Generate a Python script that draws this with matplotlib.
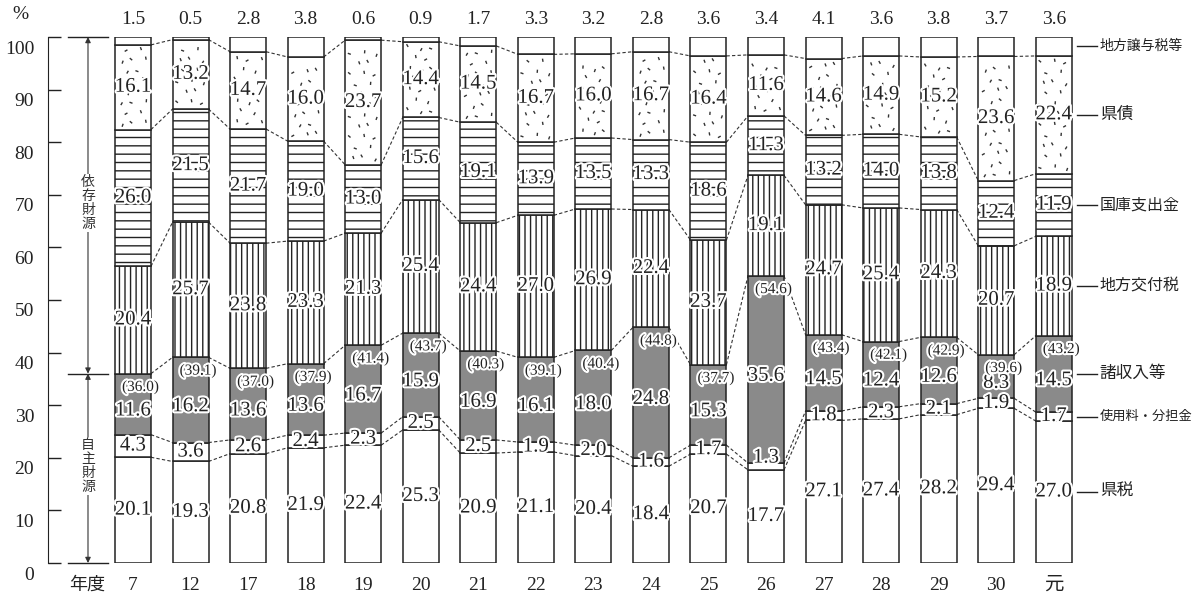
import matplotlib
matplotlib.use("Agg")
import matplotlib.pyplot as plt
import matplotlib.patheffects as pe
import matplotlib.transforms as mtransforms
from matplotlib.collections import LineCollection
import numpy as np

plt.rcParams['font.family'] = ['Liberation Serif', 'Noto Sans CJK JP']
plt.rcParams['hatch.linewidth'] = 1.0

years = ['7', '12', '17', '18', '19', '20', '21', '22', '23', '24', '25', '26',
         '27', '28', '29', '30', '元']

# 歳入構成比 (%)
kenzei = [20.1, 19.3, 20.8, 21.9, 22.4, 25.3, 20.9, 21.1, 20.4, 18.4, 20.7, 17.7,
          27.1, 27.4, 28.2, 29.4, 27.0]
shiyoryo = [4.3, 3.6, 2.6, 2.4, 2.3, 2.5, 2.5, 1.9, 2.0, 1.6, 1.7, 1.3,
            1.8, 2.3, 2.1, 1.9, 1.7]
shoshunyu = [11.6, 16.2, 13.6, 13.6, 16.7, 15.9, 16.9, 16.1, 18.0, 24.8, 15.3, 35.6,
             14.5, 12.4, 12.6, 8.3, 14.5]
jishu_total = [36.0, 39.1, 37.0, 37.9, 41.4, 43.7, 40.3, 39.1, 40.4, 44.8, 37.7, 54.6,
               43.4, 42.1, 42.9, 39.6, 43.2]
kofuzei = [20.4, 25.7, 23.8, 23.3, 21.3, 25.4, 24.4, 27.0, 26.9, 22.4, 23.7, 19.1,
           24.7, 25.4, 24.3, 20.7, 18.9]
kokko = [26.0, 21.5, 21.7, 19.0, 13.0, 15.6, 19.1, 13.9, 13.5, 13.3, 18.6, 11.3,
         13.2, 14.0, 13.8, 12.4, 11.9]
kensai = [16.1, 13.2, 14.7, 16.0, 23.7, 14.4, 14.5, 16.7, 16.0, 16.7, 16.4, 11.6,
          14.6, 14.9, 15.2, 23.6, 22.4]
joyozei = [1.5, 0.5, 2.8, 3.8, 0.6, 0.9, 1.7, 3.3, 3.2, 2.8, 3.6, 3.4,
           4.1, 3.6, 3.8, 3.7, 3.6]

names = ['県税', '使用料・分担金', '諸収入等', '地方交付税', '国庫支出金', '県債', '地方譲与税等']
name_sizes = [12, 9.5, 12, 11.5, 11.5, 12, 10]
series = [kenzei, shiyoryo, shoshunyu, kofuzei, kokko, kensai, joyozei]
faces = ['white', 'white', '#8a8a8a', 'white', 'white', 'white', 'white']
hatches = [None, None, None, '|||', '--', None, None]

n = len(years)
x = np.arange(n)
w = 0.625
data = np.array(series)
bottoms = np.vstack([np.zeros(n), np.cumsum(data, axis=0)[:-1]])
tops = bottoms + data

fig = plt.figure(figsize=(11.93, 5.98), dpi=100)
ax = fig.add_axes([48 / 1193, 1 - 563 / 598, 1 - 48 / 1193, (563 - 37) / 598])
ax.set_xlim(-1.477, 18.42)
ax.set_ylim(0, 100)

for k in range(len(series)):
    ax.bar(x, data[k], w, bottom=bottoms[k], color=faces[k], edgecolor='#222222',
           linewidth=1.1, hatch=hatches[k], zorder=2)

# 県債の部分に短い斜線の地模様
px_x, px_y = 1 / 57.56, 1 / 5.26
cols = [0.17, 0.5, 0.83]
jit = [(1.5, -2, 70), (-2, 1, -40), (1, 2, 100), (-1, -1, 30), (2, 1, -70),
       (-1.5, 2.5, 120), (0.5, -1.5, 60), (-2, -0.5, -20), (1.5, 1.5, 85)]
segs = []
k = 5
for i in range(n):
    b, t = bottoms[k][i], tops[k][i]
    row = 0
    y = b + 1.2
    while y < t - 0.8:
        for c, cx in enumerate(cols):
            dx, dy, ang = jit[(row * 3 + c + i) % len(jit)]
            shift = 0.5 if row % 2 else 0
            xc = x[i] - w / 2 + w * ((cx + shift * 0.33) % 1.0)
            if xc < x[i] - w / 2 + 0.05 or xc > x[i] + w / 2 - 0.05:
                continue
            xc += dx * px_x
            yc = y + dy * px_y
            if yc < b + 0.5 or yc > t - 0.5:
                continue
            a = np.deg2rad(ang)
            hx, hy = 1.6 * np.cos(a) * px_x, 1.6 * np.sin(a) * px_y
            segs.append([(xc - hx, yc - hy), (xc + hx, yc + hy)])
        row += 1
        y += 2.0
ax.add_collection(LineCollection(segs, colors='#333333', linewidths=1.0, zorder=3))

# 年度間を結ぶ点線
for i in range(n - 1):
    for k in range(len(series) - 1):
        ax.plot([x[i] + w / 2, x[i + 1] - w / 2], [tops[k][i], tops[k][i + 1]],
                color='#333333', lw=0.8, ls=(0, (3, 2)), zorder=1)

halo = [pe.withStroke(linewidth=3, foreground='white')]
for i in range(n):
    for k in range(6):
        mid = (bottoms[k][i] + tops[k][i]) / 2
        if k == 2:
            mid -= 1.3
        if k == 1 and data[k][i] < 1.5:
            mid += 1.6
        ax.text(x[i], mid, f'{data[k][i]:.1f}', ha='center', va='center',
                fontsize=15, color='#222222', path_effects=halo, zorder=4)
    ax.text(x[i] + 0.13, jishu_total[i] - 2.6, f'({jishu_total[i]:.1f})', ha='center',
            va='center', fontsize=11, color='#222222', path_effects=halo, zorder=5)
    ax.text(x[i], 103.3, f'{joyozei[i]:.1f}', ha='center', va='center', fontsize=14,
            color='#222222', clip_on=False)
    ax.text(x[i], -4.2, years[i], ha='center', va='center', fontsize=14,
            color='#222222', clip_on=False)

ax.text(-0.8, -4.2, '年度', ha='center', va='center', fontsize=13, color='#222222',
        clip_on=False)
ax.text(-1.95, 104.2, '%', ha='center', va='center', fontsize=14, color='#222222',
        clip_on=False)

# 右側の項目名
last = n - 1
for k in range(len(series)):
    mid = (bottoms[k][last] + tops[k][last]) / 2
    ax.plot([16.40, 16.75], [mid, mid], color='#222222', lw=1.0, clip_on=False)
    ax.text(16.80, mid, names[k], ha='left', va='center', fontsize=name_sizes[k],
            color='#222222', clip_on=False)

# 自主財源・依存財源の区分
split = jishu_total[0]
for lev in [0, split, 100]:
    ax.plot([-1.129, -0.434], [lev, lev], color='#222222', lw=1.0, clip_on=False)
arrow = dict(arrowstyle='<|-|>', color='#333333', lw=0.8, mutation_scale=8,
             shrinkA=0, shrinkB=0)
ax.annotate('', xy=(-0.782, 100), xytext=(-0.782, split), arrowprops=arrow)
ax.annotate('', xy=(-0.782, split), xytext=(-0.782, 0), arrowprops=arrow)
box = dict(facecolor='white', edgecolor='none', pad=1)
ax.text(-0.782, 68.4, '\n'.join('依存財源'), ha='center', va='center', fontsize=10,
        linespacing=1.1, color='#333333', bbox=box, zorder=3)
ax.text(-0.782, 18.4, '\n'.join('自主財源'), ha='center', va='center', fontsize=10,
        linespacing=1.1, color='#333333', bbox=box, zorder=3)

for s in ['top', 'right', 'bottom']:
    ax.spines[s].set_visible(False)
ax.spines['left'].set_color('#222222')
ax.set_xticks([])
ax.set_yticks(range(0, 101, 10))
ax.tick_params(axis='y', direction='in', length=9, width=1.0, colors='#222222',
               labelsize=14, pad=10)
offset = mtransforms.ScaledTranslation(0, -10 / 100, fig.dpi_scale_trans)
for lab in ax.get_yticklabels():
    lab.set_transform(lab.get_transform() + offset)

fig.savefig('out.png', dpi=100)
